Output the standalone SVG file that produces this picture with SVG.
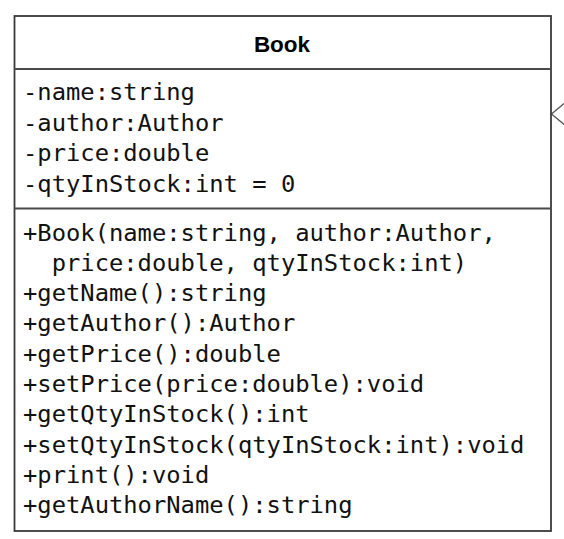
<svg xmlns="http://www.w3.org/2000/svg" width="564" height="539" viewBox="0 0 564 539">
<style>
.box{fill:#fff;stroke:#3a3a3a;stroke-width:1.8}
.sep{stroke:#4a4a4a;stroke-width:1.8}
.title{font-family:"Liberation Sans",Arial,sans-serif;font-weight:bold;font-size:22.5px;fill:#000}
.m{font-family:"DejaVu Sans Mono","Liberation Mono",monospace;font-size:23.8px;fill:#111}
.conn{fill:none;stroke:#555;stroke-width:1.3}
</style>
<rect width="564" height="539" fill="#fff"/>
<g id="connectors">
<polyline class="conn" points="566,102 551.5,114 566,126"/>
</g>
<g id="Book">
<rect class="box" x="14.5" y="16" width="536.5" height="515"/>
<line class="sep" x1="14.5" y1="69" x2="551" y2="69"/>
<line class="sep" x1="14.5" y1="208.5" x2="551" y2="208.5"/>
<text class="title" x="282" y="52" text-anchor="middle">Book</text>
<g class="m">
<text x="23" y="100">-name:string</text>
<text x="23" y="130.5">-author:Author</text>
<text x="23" y="161">-price:double</text>
<text x="23" y="191.5">-qtyInStock:int = 0</text>
<text x="23" y="240.5">+Book(name:string, author:Author,</text>
<text x="23" y="270.8" xml:space="preserve">  price:double, qtyInStock:int)</text>
<text x="23" y="301.1">+getName():string</text>
<text x="23" y="331.4">+getAuthor():Author</text>
<text x="23" y="361.7">+getPrice():double</text>
<text x="23" y="392">+setPrice(price:double):void</text>
<text x="23" y="422.3">+getQtyInStock():int</text>
<text x="23" y="452.6">+setQtyInStock(qtyInStock:int):void</text>
<text x="23" y="482.9">+print():void</text>
<text x="23" y="513.2">+getAuthorName():string</text>
</g>
</g>
</svg>
